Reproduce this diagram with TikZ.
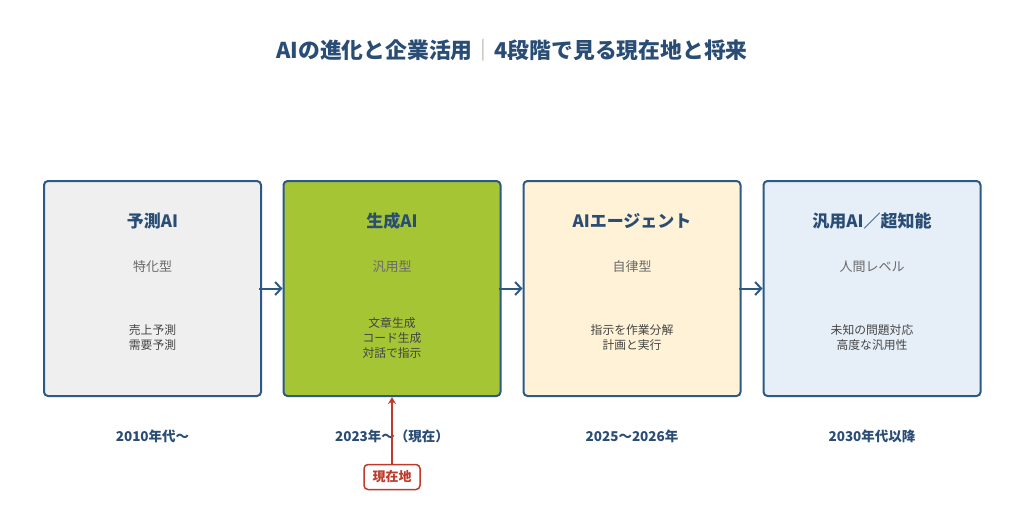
\documentclass[tikz,border=0pt]{standalone}
\usepackage{fontspec}
\setmainfont{Noto Sans CJK JP}
\usetikzlibrary{arrows.meta}
\definecolor{navy}{HTML}{2D5986}
\definecolor{titleblue}{HTML}{2A4D75}
\definecolor{grytext}{HTML}{6A6A6A}
\definecolor{itemtext}{HTML}{444444}
\definecolor{fillA}{HTML}{EFEFEF}
\definecolor{fillB}{HTML}{A5C535}
\definecolor{fillC}{HTML}{FFF2D6}
\definecolor{fillD}{HTML}{E6EEF8}
\definecolor{redc}{HTML}{C0392B}
\tikzset{
  stagebox/.style={draw=navy, line width=2pt, rounded corners=4pt, minimum width=217pt, minimum height=215pt, inner sep=0pt},
  stagetitle/.style={text=titleblue, font=\fontsize{17}{20}\selectfont\bfseries},
  stagesub/.style={text=grytext, font=\fontsize{13}{15}\selectfont},
  stageitems/.style={text=itemtext, font=\fontsize{11.8}{15}\selectfont, align=center},
  yearlbl/.style={text=titleblue, font=\fontsize{13.5}{16}\selectfont\bfseries},
  flow/.style={draw=navy, line width=2pt, -{Straight Barb[length=6pt,width=13pt,line width=2pt]}},
}
\begin{document}
\begin{tikzpicture}[x=1pt,y=-1pt]
\useasboundingbox[fill=white] (0,0) rectangle (1024,507);
\node[text=titleblue, font=\fontsize{21.8}{26}\selectfont\bfseries] (title) at (512,50) {AIの進化と企業活用{\color{grytext!60}\mdseries｜}4段階で見る現在地と将来};

\node[stagebox, fill=fillA] (b1) at (152.5,288.5) {};
\node[stagebox, fill=fillB] (b2) at (392,288.5) {};
\node[stagebox, fill=fillC] (b3) at (632,288.5) {};
\node[stagebox, fill=fillD] (b4) at (872,288.5) {};

\node[stagetitle] (t1) at (152.5,221) {予測AI};
\node[stagetitle] (t2) at (392,221) {生成AI};
\node[stagetitle] (t3) at (632,221) {AIエージェント};
\node[stagetitle] (t4) at (872,221) {汎用AI／超知能};

\node[stagesub] (s1) at (152.5,267) {特化型};
\node[stagesub] (s2) at (392,267) {汎用型};
\node[stagesub] (s3) at (632,267) {自律型};
\node[stagesub] (s4) at (872,267) {人間レベル};

\node[stageitems] (i1) at (152.5,338) {売上予測\\需要予測};
\node[stageitems] (i2) at (392,338) {文章生成\\コード生成\\対話で指示};
\node[stageitems] (i3) at (632,338) {指示を作業分解\\計画と実行};
\node[stageitems] (i4) at (872,338) {未知の問題対応\\高度な汎用性};

\draw[flow] ([xshift=-3pt]b1.east) -- (b2.west);
\draw[flow] ([xshift=-3pt]b2.east) -- (b3.west);
\draw[flow] ([xshift=-3pt]b3.east) -- (b4.west);

\node[yearlbl] (y1) at (152.5,436) {2010年代〜};
\node[yearlbl] (y2) at (392,436) {2023年〜（現在）};
\node[yearlbl] (y3) at (632,436) {2025〜2026年};
\node[yearlbl] (y4) at (872,436) {2030年代以降};

\node[draw=redc, line width=1.5pt, rounded corners=4pt, fill=white, text=redc, font=\fontsize{13}{15}\selectfont\bfseries, minimum width=56pt, minimum height=25pt, inner sep=2pt] (now) at (392,477) {現在地};
\draw[draw=redc, line width=2pt, -{Stealth[length=7pt,width=8pt]}] (now.north) -- (b2.south);
\end{tikzpicture}
\end{document}
